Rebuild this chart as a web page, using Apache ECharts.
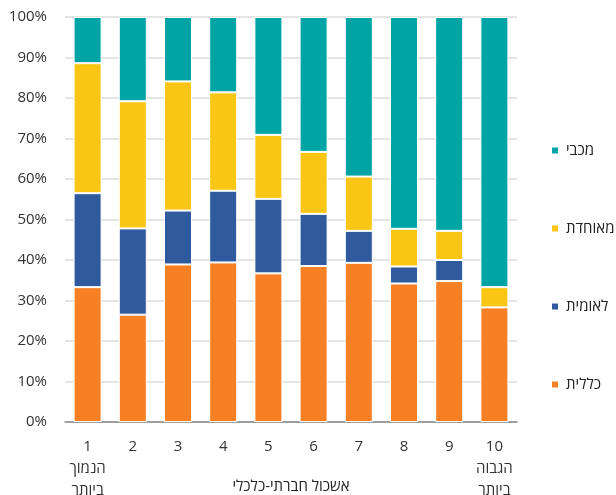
<!DOCTYPE html>
<html><head><meta charset="utf-8">
<script src="https://cdn.jsdelivr.net/npm/echarts@6/dist/echarts.min.js"></script>
<style>html,body{margin:0;padding:0;background:#fff}#c{width:616px;height:495px}</style>
</head><body><div id="c"></div>
<script>
const categories = ['1\nהנמוך\nביותר','2','3','4','5','6','7','8','9','10\nהגבוה\nביותר'];
const clalit  = [33.3, 26.5, 38.9, 39.4, 36.7, 38.5, 39.3, 34.2, 34.8, 28.3];
const leumit  = [23.2, 21.3, 13.3, 17.7, 18.4, 12.9,  7.9,  4.2,  5.2,  0.0];
const meuhedet= [32.1, 31.4, 31.9, 24.3, 15.8, 15.3, 13.4,  9.3,  7.2,  5.0];
const maccabi = [11.4, 20.8, 15.9, 18.6, 29.1, 33.3, 39.4, 52.3, 52.8, 66.7];
const yTicks = [0,10,20,30,40,50,60,70,80,90,100];
const names = ['כללית','לאומית','מאוחדת','מכבי'];
const colors = ['#f78024','#305a9e','#f9c616','#00a4a4'];
const font = '"Open Sans","Noto Sans","DejaVu Sans",sans-serif';
const chart = echarts.init(document.getElementById('c'));
const mk = (name, data, color) => ({
  name, type:'bar', stack:'t', data, barCategoryGap:'38%',
  itemStyle:{color, borderColor:'#ffffff', borderWidth:1}
});
chart.setOption({
  animation:false,
  textStyle:{fontFamily:font},
  grid:{left:65, right:99, top:17, bottom:73, containLabel:false, outerBoundsMode:'none'},
  legend:{
    orient:'vertical', left:550, top:143, itemWidth:8, itemHeight:8, itemGap:63,
    padding:0, icon:'rect', data:['מכבי','מאוחדת','לאומית','כללית'],
    textStyle:{fontSize:15, color:'#222', fontFamily:font, padding:[0,0,0,2]}
  },
  xAxis:{
    type:'category', data:categories,
    axisTick:{show:false},
    axisLine:{lineStyle:{color:'#888', width:1.5}},
    axisLabel:{interval:0, hideOverlap:false, fontSize:15, color:'#333', margin:14, lineHeight:22, fontFamily:font},
    name:'אשכול חברתי-כלכלי', nameLocation:'middle', nameGap:57, nameMoveOverlap:false,
    nameTextStyle:{fontSize:15, color:'#222', fontFamily:font}
  },
  yAxis:{
    type:'value', min:yTicks[0], max:yTicks[yTicks.length-1], interval:10,
    axisLabel:{formatter:'{value}%', fontSize:15, color:'#333', margin:18, fontFamily:font},
    splitLine:{lineStyle:{color:'#dcdcdc', width:1.5}},
    axisLine:{show:false}, axisTick:{show:false}
  },
  series:[mk(names[0],clalit,colors[0]), mk(names[1],leumit,colors[1]), mk(names[2],meuhedet,colors[2]), mk(names[3],maccabi,colors[3])]
});
</script></body></html>
